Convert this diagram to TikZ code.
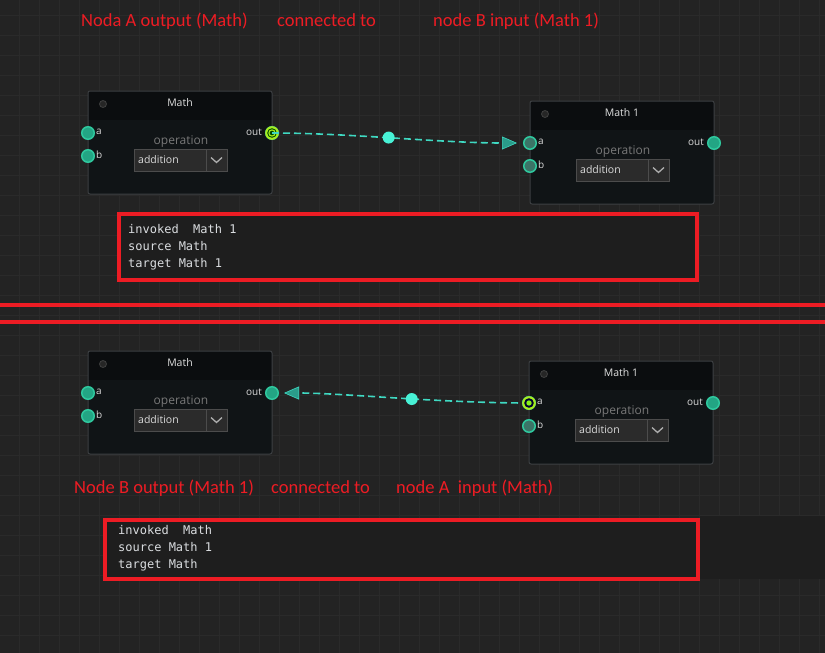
\documentclass[tikz,border=0pt]{standalone}
\usepackage{fontspec}
\setmainfont{Open Sans}
\newfontfamily\notefont{Carlito}
\newfontfamily\logfont{DejaVu Sans Mono}
\usetikzlibrary{arrows.meta}

\definecolor{canvas}{HTML}{232323}
\definecolor{gridgray}{HTML}{2A2A2A}
\definecolor{bodyblack}{HTML}{101416}
\definecolor{headblack}{HTML}{0B0D0F}
\definecolor{bordergray}{HTML}{3C3F42}
\definecolor{portteal}{HTML}{23A584}
\definecolor{portdark}{HTML}{3B7467}
\definecolor{portedge}{HTML}{2FC89E}
\definecolor{wirecyan}{HTML}{3FD9C2}
\definecolor{dotcyan}{HTML}{48F2D6}
\definecolor{arrowteal}{HTML}{2A9C8A}
\definecolor{hilite}{HTML}{A8EC1E}
\definecolor{markred}{HTML}{ED1C24}
\definecolor{logfill}{HTML}{1E1E1E}
\definecolor{logtext}{HTML}{DADDE0}

\begin{document}
\begin{tikzpicture}[x=1pt, y=-1pt,
    gridline/.style={draw=gridgray, line width=0.7pt},
    port/.style={circle, fill=portteal, draw=portedge, line width=1.5pt, inner sep=0pt, minimum size=12.5pt},
    portdim/.style={port, fill=portdark},
    portlabel/.style={text=white!85!black, font=\fontsize{10}{12}\selectfont, inner sep=0pt},
    wire/.style={draw=wirecyan, line width=1.6pt, dash pattern=on 7pt off 4pt,
        -{Triangle[length=15pt, width=13pt, fill=arrowteal, line width=0.6pt]}},
    wiredot/.style={circle, fill=dotcyan, inner sep=0pt, minimum size=12pt},
    note/.style={text=markred, font=\notefont\fontsize{18.5}{22}\selectfont, inner sep=0pt, anchor=base west},
    logbox/.style={draw=markred, line width=4pt, fill=logfill},
    logtext/.style={text=logtext, font=\logfont\fontsize{12}{17}\selectfont, align=left, inner sep=0pt, anchor=north west}
]
    \useasboundingbox (0,0) rectangle (825,653);
    \fill[canvas] (0,0) rectangle (825,653);
    \foreach \gx in {19,39,...,819} \draw[gridline] (\gx,0) -- (\gx,653);
    \foreach \gy in {15,35,...,655} \draw[gridline] (0,\gy) -- (825,\gy);

    % math nodes
    \foreach \n/\x/\y/\t/\ps in {A/88/91/Math/port, B/530/101/Math 1/portdim, C/88/351/Math/port, D/529/361/Math 1/portdim} {
        \begin{scope}[shift={(\x,\y)}]
            \begin{scope}
                \clip[rounded corners=2pt] (0,0) rectangle (184,103);
                \fill[bodyblack] (0,0) rectangle (184,103);
                \fill[headblack] (0,0) rectangle (184,29);
            \end{scope}
            \draw[bordergray, line width=1pt, rounded corners=2pt] (0,0) rectangle (184,103);
            \filldraw[fill=black!85!white, draw=black!75!white, line width=0.8pt] (15,13) circle (3.5);
            \node[text=white!88!black, font=\fontsize{10.5}{12}\selectfont] (\n-title) at (92,12) {\t};

            \node[text=white!47!black, font=\fontsize{12}{14}\selectfont] (\n-op) at (93,51) {operation};
            \filldraw[fill=black!83!white, draw=white!30!black, line width=1pt] (46,58) rectangle (139,80);
            \draw[white!30!black, line width=1pt] (118,58) -- (118,80);
            \node[text=white!86!black, font=\fontsize{10.5}{12}\selectfont, anchor=west, inner sep=0pt] (\n-sel) at (50,69) {addition};
            \draw[white!68!black, line width=1.3pt] (123,66.5) -- (128.5,71.5) -- (134,66.5);

            \node[\ps] (\n-a) at (0,42) {};
            \node[\ps] (\n-b) at (0,65) {};
            \node[port] (\n-out) at (184,42) {};
            \node[portlabel, anchor=west] at (8,41) {a};
            \node[portlabel, anchor=west] at (8,64) {b};
            \node[portlabel, anchor=east] at (174,41) {out};
        \end{scope}
    }

    % active ports
    \fill[hilite] (A-out) circle (6.8);
    \fill[black!70!green] (A-out) circle (4.8);
    \draw[hilite, line width=1.1pt] (A-out) circle (3.1);

    \draw[wire, shorten >=13pt] (A-out.center) .. controls +(78,0) and +(-90,0) .. (B-a.center) node[wiredot, pos=0.47] (dotA) {};
    \draw[wire, shorten >=12pt] (D-a.center) .. controls +(-90,0) and +(70,0) .. (C-out.center) node[wiredot, pos=0.43] (dotB) {};

    \fill[hilite] (D-a) circle (6.8);
    \fill[blue!20!black] (D-a) circle (4.8);
    \fill[hilite!80!green] (D-a) circle (2.7);

    % notes
    \node[note] (noteA1) at (81,27) {Noda A output (Math)};
    \node[note] (noteA2) at (277,27) {connected to};
    \node[note] (noteA3) at (433,27) {node B input (Math 1)};
    \node[note] (noteB1) at (74,493) {Node B output (Math 1)};
    \node[note] (noteB2) at (271,493) {connected to};
    \node[note] (noteB3) at (396,493) {node A~~input (Math)};

    \draw[markred, line width=4pt] (0,305) -- (825,305);
    \draw[markred, line width=4pt] (0,322) -- (825,322);

    % logs
    \draw[logbox] (119,214) rectangle (697,280);
    \node[logtext] (logA) at (128,224) {invoked~~Math 1\\source Math\\target Math 1};

    \fill[logfill] (700,516) rectangle (825,579);
    \draw[logbox] (105,520) rectangle (698,579);
    \node[logtext] (logB) at (118,525) {invoked~~Math\\source Math 1\\target Math};
\end{tikzpicture}
\end{document}
